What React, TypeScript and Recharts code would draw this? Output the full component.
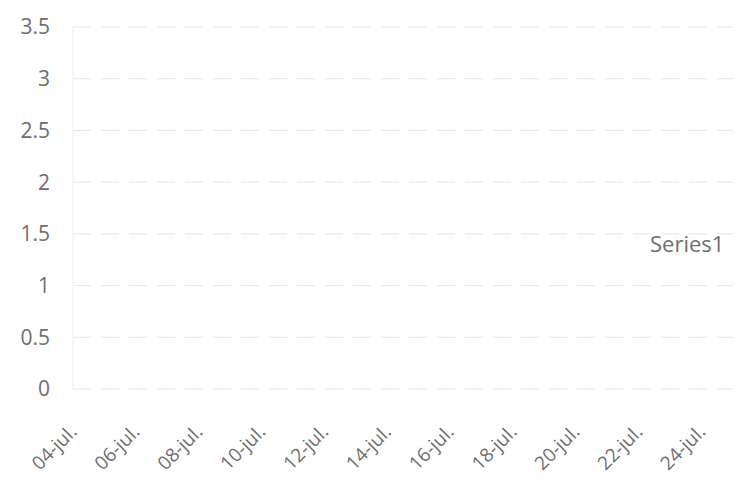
import { LineChart, Line, XAxis, YAxis, CartesianGrid } from 'recharts';

const dates = [
  '04-jul.', '05-jul.', '06-jul.', '07-jul.', '08-jul.', '09-jul.', '10-jul.', '11-jul.',
  '12-jul.', '13-jul.', '14-jul.', '15-jul.', '16-jul.', '17-jul.', '18-jul.', '19-jul.',
  '20-jul.', '21-jul.', '22-jul.', '23-jul.', '24-jul.', '25-jul.',
];
// nothing is plotted in the reference, the series is empty
const series1: (number | null)[] = [
  null, null, null, null, null, null, null, null, null, null, null,
  null, null, null, null, null, null, null, null, null, null, null,
];
const yTicks = [0, 0.5, 1, 1.5, 2, 2.5, 3, 3.5];

const data = dates.map((d, i) => ({ date: d, Series1: series1[i] }));

const font = '"Open Sans", "Liberation Sans", sans-serif';
const textColor = '#6e6e6e';

const DateTick = ({ x, y, payload }: any) => (
  <g transform={`translate(${x + 5},${y + 36})`}>
    <text transform="rotate(-45)" textAnchor="end" fill={textColor} fontSize={19} fontFamily={font}>
      {payload.value}
    </text>
  </g>
);

const App = () => {
  return (
    <div style={{ position: 'absolute', left: 0, top: 0, width: 745, height: 482, background: '#fff' }}>
      <LineChart width={745} height={482} data={data} margin={{ top: 27, right: 12, left: 0, bottom: 0 }}>
        <CartesianGrid vertical={false} stroke="#e6e6e6" strokeDasharray="18 10" />
        <XAxis
          dataKey="date"
          interval={1}
          height={93}
          tick={<DateTick />}
          tickLine={false}
          axisLine={false}
        />
        <YAxis
          type="number"
          domain={[0, 3.5]}
          allowDataOverflow
          ticks={yTicks}
          width={73}
          tickSize={0}
          tickMargin={23}
          axisLine={{ stroke: '#efefef' }}
          tick={{ fill: textColor, fontSize: 21, fontFamily: font }}
        />
        <Line dataKey="Series1" name="Series1" stroke="#4472c4" strokeWidth={2} dot={false} isAnimationActive={false} />
      </LineChart>
      <div style={{ position: 'absolute', left: 650, top: 228, fontFamily: font, fontSize: 22, color: textColor }}>
        Series1
      </div>
    </div>
  );
};

export default App;
